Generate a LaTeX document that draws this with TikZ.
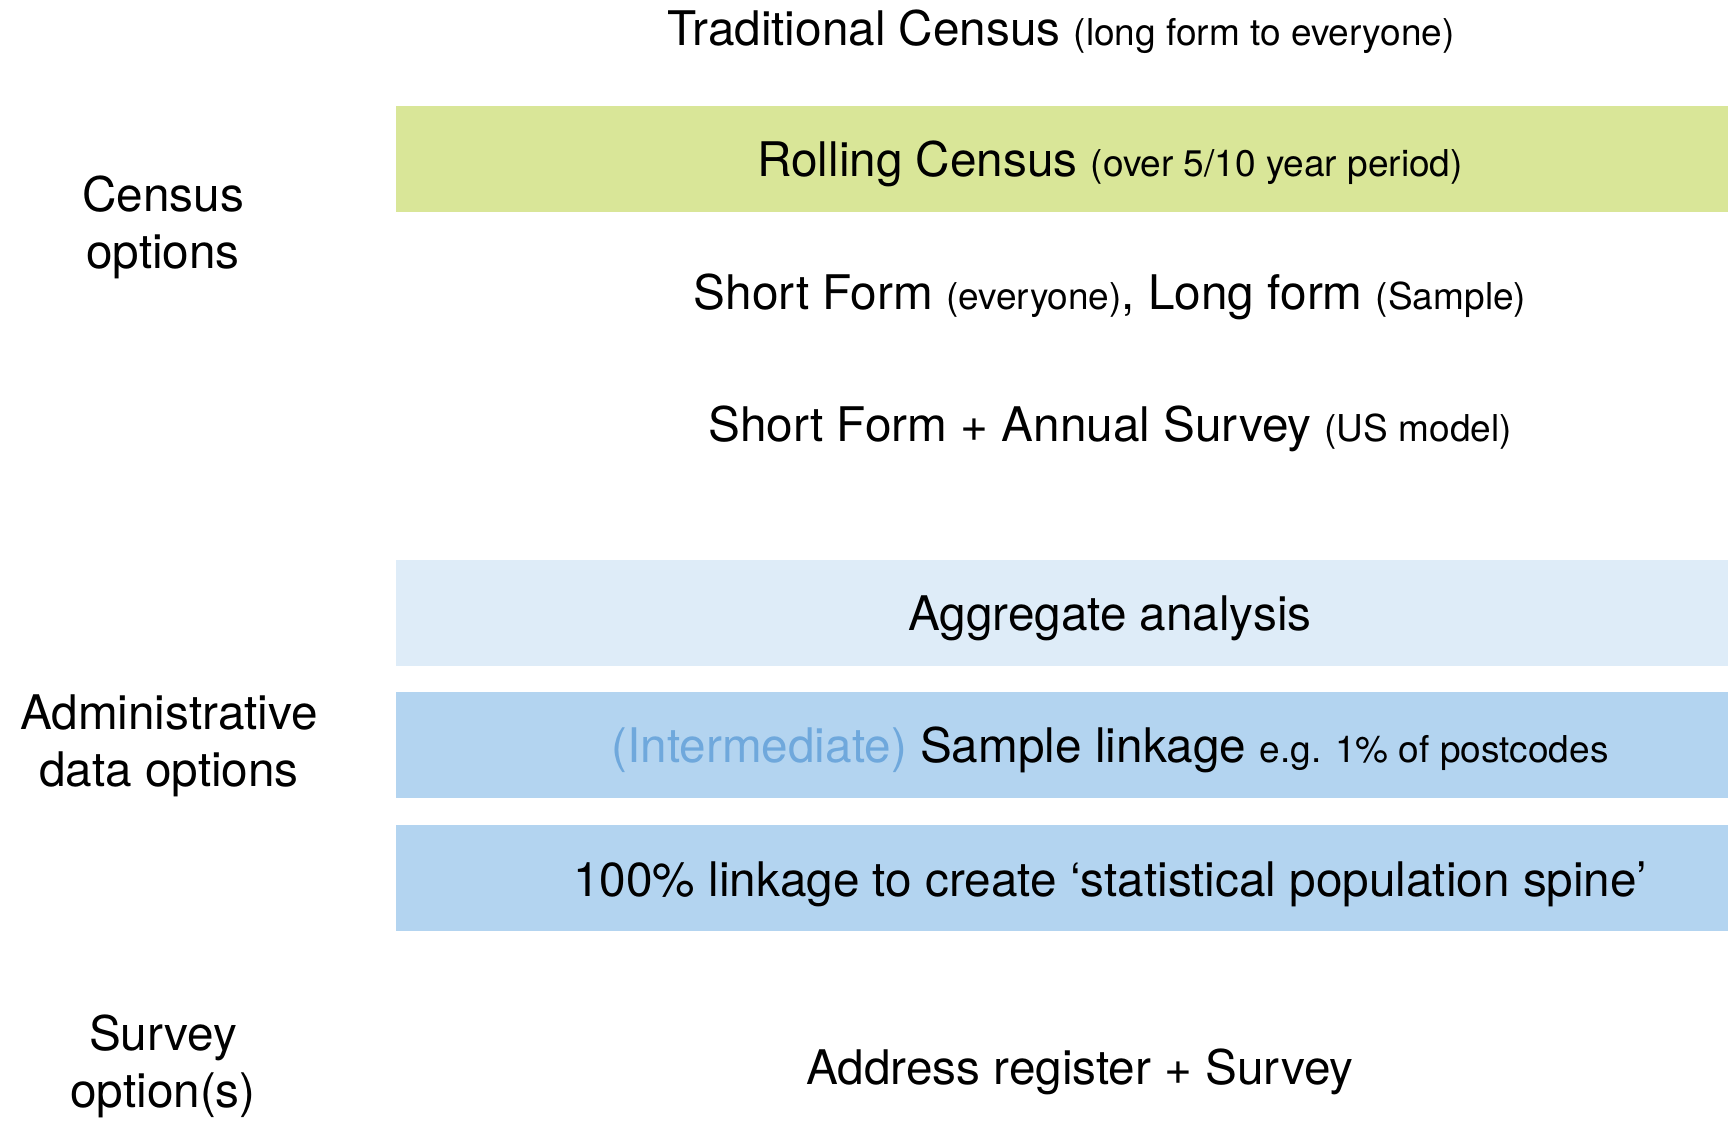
\documentclass[tikz,border=0pt]{standalone}
\usepackage{fontspec}
\setmainfont{TeX Gyre Heros}
\usepackage{tikz}
\usetikzlibrary{positioning}

\definecolor{rollgreen}{RGB}{217,230,152}
\definecolor{aggblue}{RGB}{222,236,248}
\definecolor{linkblue}{RGB}{179,212,240}
\definecolor{midblue}{RGB}{111,168,220}

\newcommand{\aside}[1]{{\fontsize{18.5}{22}\selectfont #1}}

\tikzset{
  band/.style={inner sep=0, outer sep=0, anchor=north west,
    minimum width=666pt, minimum height=52.85pt},
  item/.style={inner sep=0, anchor=base,
    font=\fontsize{23.85}{28.5}\selectfont},
  group/.style={item, align=center}
}

\begin{document}
\begin{tikzpicture}[x=0.5pt, y=-0.5pt]
            \useasboundingbox (0,0) rectangle (1731,1127);
            \node[band, fill=rollgreen] (rolling) at (396,106) {};
            \node[band, fill=aggblue] (aggregate) at (396,560) {};
            \node[band, fill=linkblue] (sample) at (396,692) {};
            \node[band, fill=linkblue] (spine) at (396,825) {};
            \node[item] (trad) at (1061,45.7) {Traditional Census \aside{(long form to everyone)}};
            \node[item] (rolltxt) at (1110,176.7) {Rolling Census \aside{(over 5/10 year period)}};
            \node[item] (shortlong) at (1110,310) {Short Form \aside{(everyone)}, Long form \aside{(Sample)}};
            \node[item] (annual) at (1110,441.7) {Short Form + Annual Survey \aside{(US model)}};
            \node[item] (aggtxt) at (1110,630.5) {Aggregate analysis};
            \node[item] (sampletxt) at (1110,763) {\textcolor{midblue}{(Intermediate)} Sample linkage \aside{e.g. 1\% of postcodes}};
            \node[item] (spinetxt) at (1110,896.5) {100\% linkage to create `statistical population spine'};
            \node[item] (address) at (1080,1085) {Address register + Survey};
            % two-line labels sit on the baseline of their last line
            \node[group] (census) at (163,269) {Census\\options};
            \node[group] (admin) at (169,786.7) {Administrative\\data options};
            \node[group] (survey) at (163,1108) {Survey\\option(s)};
\end{tikzpicture}
\end{document}
